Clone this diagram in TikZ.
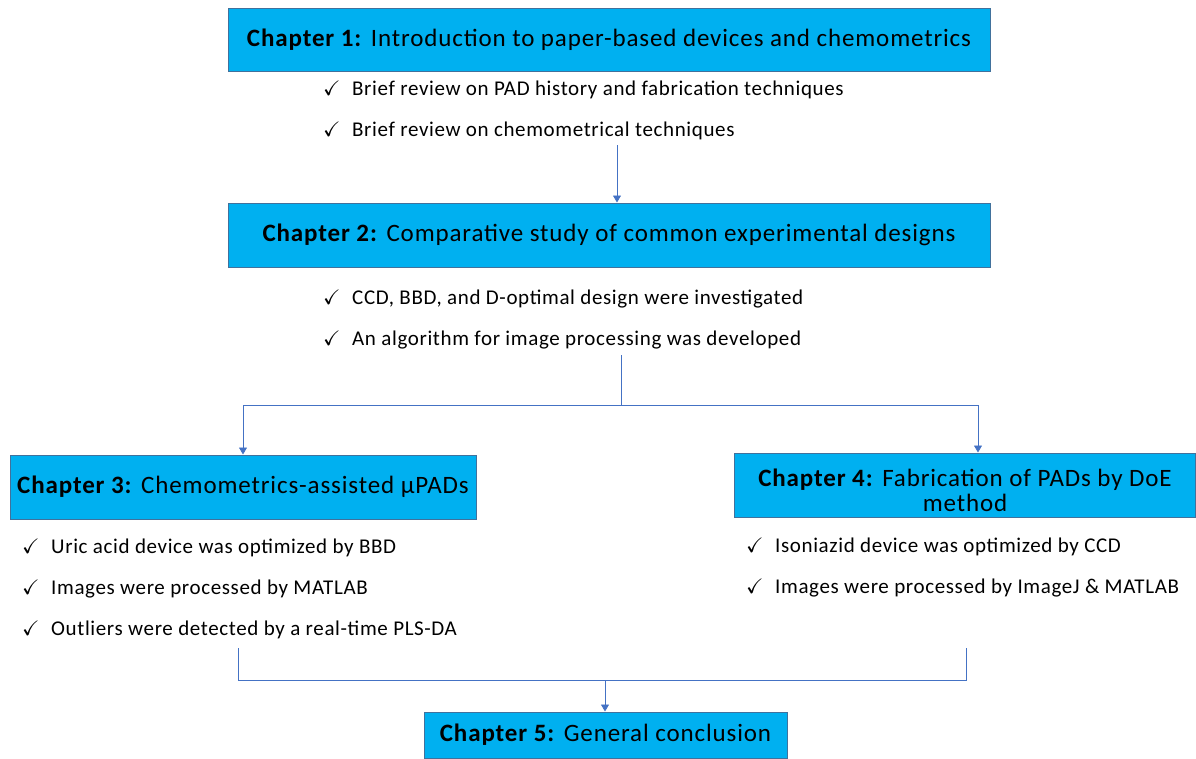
\documentclass[tikz,border=0pt]{standalone}
\usepackage{fontspec}
\setmainfont{Carlito}
\usepackage{amssymb}
\usetikzlibrary{arrows.meta}

\definecolor{boxfill}{HTML}{00B0F0}
\definecolor{boxline}{HTML}{41719C}
\definecolor{linkline}{HTML}{4472C4}

\tikzset{
  chapbox/.style={draw=boxline, line width=1pt, fill=boxfill, inner sep=0pt,
    align=center, font=\fontsize{25}{22}\selectfont\addfontfeatures{LetterSpace=3.5}},
  chaptext/.style={inner sep=0pt, align=center,
    font=\fontsize{25}{25}\selectfont\addfontfeatures{LetterSpace=3.5}},
  bullet/.style={anchor=west, inner sep=0pt,
    font=\fontsize{21}{24}\selectfont\addfontfeatures{LetterSpace=3}},
  link/.style={draw=linkline, line width=0.8pt},
  linkarrow/.style={link, -{Triangle[length=7pt,width=8pt]}}
}
\newcommand{\chk}[1]{\makebox[29pt][l]{$\checkmark$}#1}

\begin{document}
\begin{tikzpicture}[x=1pt, y=-1pt]
		%%%%% START %%%%%
		\useasboundingbox (0, 0) rectangle (1196, 758);
		\clip (0, 0) rectangle (1196, 758);
		
		\node[chapbox, minimum width=762pt, minimum height=63pt] (ch1) at (609, 39.5)
		  {\textbf{Chapter 1:} Introduction to paper-based devices and chemometrics};
		\node[bullet] (b11) at (323, 90) {\chk{Brief review on PAD history and fabrication techniques}};
		\node[bullet] (b12) at (323, 131) {\chk{Brief review on chemometrical techniques}};
		
		\node[chapbox, minimum width=762pt, minimum height=64pt] (ch2) at (609, 235)
		  {\textbf{Chapter 2:} Comparative study of common experimental designs};
		\node[bullet] (b21) at (323, 299) {\chk{CCD, BBD, and D-optimal design were investigated}};
		\node[bullet] (b22) at (323, 340) {\chk{An algorithm for image processing was developed}};
		
		\node[chapbox, minimum width=466pt, minimum height=64pt] (ch3) at (243, 487)
		  {\textbf{Chapter 3:} Chemometrics-assisted µPADs};
		\node[bullet] (b31) at (22, 548) {\chk{Uric acid device was optimized by BBD}};
		\node[bullet] (b32) at (22, 589) {\chk{Images were processed by MATLAB}};
		\node[bullet] (b33) at (22, 630) {\chk{Outliers were detected by a real-time PLS-DA}};
		
		\node[chapbox, minimum width=461pt, minimum height=64pt] (ch4) at (964.5, 485) {};
		\node[chaptext] (ch4t) at (965, 490)
		  {\textbf{Chapter 4:} Fabrication of PADs by DoE\\method};
		\node[bullet] (b41) at (746, 547) {\chk{Isoniazid device was optimized by CCD}};
		\node[bullet] (b42) at (746, 588) {\chk{Images were processed by ImageJ \& MATLAB}};
		
		\node[chapbox, minimum width=363pt, minimum height=46pt] (ch5) at (605.5, 735)
		  {\textbf{Chapter 5:} General conclusion};
		
		% connectors
		\coordinate (s1) at (617, 145);
		\draw[linkarrow] (s1) -- (s1 |- ch2.north);
		
		\coordinate (s2) at (621, 355);
		\coordinate (j2) at (621, 405);
		\draw[link] (s2) -- (j2);
		\draw[linkarrow] (j2) -| (ch3.north);
		\draw[linkarrow] (j2) -| ([xshift=13.5pt]ch4.north);
		
		\coordinate (s3) at (238, 648);
		\coordinate (s4) at (966, 648);
		\draw[link] (s3) |- (966, 680) -- (s4);
		\coordinate (j3) at (605, 680);
		\draw[linkarrow] (j3) -- (j3 |- ch5.north);
		
		%%%%% END %%%%%
	\end{tikzpicture}
\end{document}
